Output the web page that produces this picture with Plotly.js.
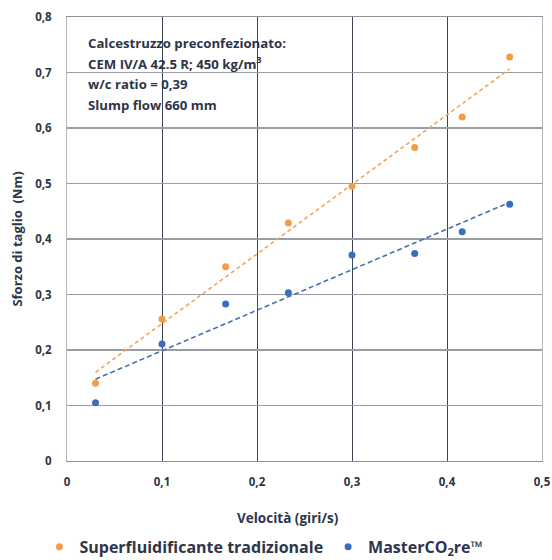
<!DOCTYPE html>
<html>
<head>
<meta charset="utf-8">
<script src="https://cdn.plot.ly/plotly-3.0.1.min.js"></script>
<style>html,body{margin:0;padding:0;background:#fff;}#chart{width:552px;height:560px;}</style>
</head>
<body>
<div id="chart"></div>
<script>
const velocita = [0.03, 0.1, 0.167, 0.233, 0.3, 0.366, 0.416, 0.466];
const superfluidificante = [0.14, 0.256, 0.35, 0.429, 0.495, 0.565, 0.62, 0.728];
const mastercore = [0.105, 0.211, 0.283, 0.303, 0.371, 0.374, 0.413, 0.4625];
const seriesNames = ['Superfluidificante tradizionale', 'MasterCO<sub>2</sub>re™'];
const xTitle = 'Velocità (giri/s)';
const yTitle = 'Sforzo di taglio  (Nm)';
const noteLines = ['Calcestruzzo preconfezionato:', 'CEM IV/A 42.5 R; 450 kg/m<sup>3</sup>', 'w/c ratio = 0,39', 'Slump flow 660 mm'];

function linfit(xs, ys) {
  const n = xs.length;
  const mx = xs.reduce((a, b) => a + b, 0) / n;
  const my = ys.reduce((a, b) => a + b, 0) / n;
  let sxy = 0, sxx = 0;
  for (let i = 0; i < n; i++) { sxy += (xs[i] - mx) * (ys[i] - my); sxx += (xs[i] - mx) ** 2; }
  const m = sxy / sxx, q = my - m * mx;
  const ends = [xs[0], xs[n - 1]];
  return { x: ends, y: ends.map(v => m * v + q) };
}

const orange = '#F39B45';
const blue = '#3A6DBF';
const textCol = '#2E3548';
const fam = '"Open Sans", Lato, sans-serif';
const fitO = linfit(velocita, superfluidificante);
const fitB = linfit(velocita, mastercore);

const data = [
  { x: fitO.x, y: fitO.y, mode: 'lines', line: { color: '#F2A55A', dash: '4px,3px', width: 1.6 }, showlegend: false, hoverinfo: 'skip' },
  { x: fitB.x, y: fitB.y, mode: 'lines', line: { color: '#4A6FAE', dash: '5px,3px', width: 1.6 }, showlegend: false, hoverinfo: 'skip' },
  { x: velocita, y: superfluidificante, mode: 'markers', name: seriesNames[0], marker: { color: orange, size: 7 } },
  { x: velocita, y: mastercore, mode: 'markers', name: seriesNames[1], marker: { color: blue, size: 7 } }
];

const notes = noteLines.map((t, i) => ({
  xref: 'paper', yref: 'paper', x: 0.04, y: 1 - (26 + i * 20.5) / 444,
  xanchor: 'left', yanchor: 'middle', showarrow: false,
  text: t, font: { family: fam, size: 13.2, color: textCol, weight: 'bold' }
}));
notes.push({
  xref: 'paper', yref: 'paper', x: 0.466, y: -57 / 444, xanchor: 'center', yanchor: 'middle',
  showarrow: false, text: xTitle, font: { family: fam, size: 13.5, color: textCol, weight: 'bold' }
});

const layout = {
  width: 552, height: 560,
  margin: { l: 67, r: 10, t: 17, b: 99, autoexpand: false },
  paper_bgcolor: '#fff', plot_bgcolor: '#fff',
  separators: ', ',
  font: { family: fam, color: textCol, size: 12 },
  xaxis: {
    range: [0, 0.5], dtick: 0.1, tick0: 0, automargin: false,
    showgrid: true, gridcolor: '#3D4454', gridwidth: 1,
    zeroline: false, showline: true, linecolor: '#8a8f99', linewidth: 1, mirror: true,
    ticks: '', ticklabelstandoff: 10,
    tickfont: { family: fam, size: 11.5, color: textCol, weight: 'bold' }
  },
  yaxis: {
    range: [0, 0.8], dtick: 0.1, tick0: 0, automargin: false,
    showgrid: true, gridcolor: '#9A9DA3', gridwidth: 1.2,
    zeroline: false, showline: true, linecolor: '#b5b8bd', linewidth: 1, mirror: true,
    ticks: '', ticklabelstandoff: 12,
    tickfont: { family: fam, size: 11.5, color: textCol, weight: 'bold' },
    title: { text: yTitle, font: { family: fam, size: 13, color: textCol, weight: 'bold' }, standoff: 9 }
  },
  showlegend: true,
  legend: {
    orientation: 'h', x: -0.058, xanchor: 'left', y: -0.155, yanchor: 'top',
    font: { family: fam, size: 16, color: textCol, weight: 'bold' },
    itemwidth: 30, bgcolor: 'rgba(0,0,0,0)', tracegroupgap: 0
  },
  annotations: notes
};

Plotly.newPlot('chart', data, layout, { displayModeBar: false, staticPlot: true });
</script>
</body>
</html>
